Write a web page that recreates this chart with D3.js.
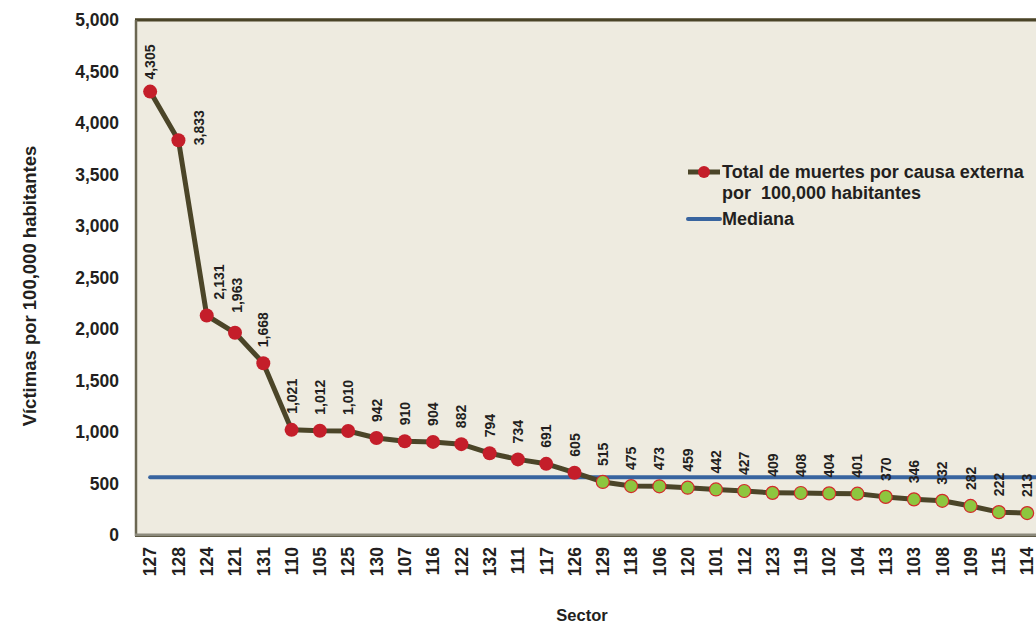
<!DOCTYPE html>
<html><head><meta charset="utf-8">
<script src="https://cdn.jsdelivr.net/npm/d3@7"></script>
<style>body{margin:0;background:#fff;}svg{display:block;font-family:"Liberation Sans",Arial,sans-serif;}</style>
</head><body>
<svg id="c" width="1036" height="625"></svg>
<script>
const sectors = ["127","128","124","121","131","110","105","125","130","107","116","122","132","111","117","126","129","118","106","120","101","112","123","119","102","104","113","103","108","109","115","114"];
const values = [4305,3833,2131,1963,1668,1021,1012,1010,942,910,904,882,794,734,691,605,515,475,473,459,442,427,409,408,404,401,370,346,332,282,222,213];
const median = 560;
const yTicks = [0,500,1000,1500,2000,2500,3000,3500,4000,4500,5000];
const legendLabels = ["Total de muertes por causa externa", "por  100,000 habitantes", "Mediana"];
const yTitle = "Víctimas por 100,000 habitantes";
const xTitle = "Sector";

(function(){
const svg = d3.select("#c");
const pL = 136, pT = 20, pB = 535;
const step = (1027 - 150) / 31;
const pR = pL + step * sectors.length;

const x = d3.scaleBand().domain(sectors).range([pL, pR]).padding(0);
const y = d3.scaleLinear().domain([0, 5000]).range([pB, pT]);
const cx = d => x(d) + x.bandwidth() / 2;

svg.append("rect").attr("x", pL).attr("y", pT).attr("width", pR - pL).attr("height", pB - pT).attr("fill", "#eeebe0");
svg.append("line").attr("x1", pL - 1).attr("x2", pR).attr("y1", pT - 1.5).attr("y2", pT - 1.5).attr("stroke", "#a09a88").attr("stroke-width", 1);
svg.append("line").attr("x1", pL - 1).attr("x2", pR).attr("y1", pT).attr("y2", pT).attr("stroke", "#4a4428").attr("stroke-width", 3);
svg.append("line").attr("x1", pL).attr("x2", pL).attr("y1", pT).attr("y2", pB + 1).attr("stroke", "#6b6752").attr("stroke-width", 2.5);
svg.append("line").attr("x1", pL - 1).attr("x2", pR).attr("y1", pB).attr("y2", pB).attr("stroke", "#8c8a7c").attr("stroke-width", 3);
svg.append("line").attr("x1", pL - 1).attr("x2", pR).attr("y1", pB + 1.5).attr("y2", pB + 1.5).attr("stroke", "#5e5a45").attr("stroke-width", 1);

const yAxis = d3.axisLeft(y).tickValues(yTicks).tickFormat(d3.format(",")).tickSize(0).tickPadding(17);
const ya = svg.append("g").attr("transform", `translate(${pL},0)`).call(yAxis);
ya.select(".domain").remove();
ya.selectAll("text").attr("font-size", 17.5).attr("font-weight", "bold").attr("fill", "#231f20").attr("font-family", "Liberation Sans, Arial, sans-serif");

const xAxis = d3.axisBottom(x).tickSize(0).tickPadding(0);
const xa = svg.append("g").attr("transform", `translate(0,${pB})`).call(xAxis);
xa.select(".domain").remove();
xa.selectAll("text").attr("font-size", 17.5).attr("font-weight", "bold").attr("fill", "#231f20")
  .attr("font-family", "Liberation Sans, Arial, sans-serif")
  .attr("transform", "rotate(-90)").attr("text-anchor", "end").attr("dy", "0.36em").attr("x", -12).attr("y", 0);

svg.append("text").attr("transform", `translate(36,286) rotate(-90)`).attr("text-anchor", "middle")
  .attr("font-size", 18.5).attr("font-weight", "bold").attr("fill", "#231f20").text(yTitle);
svg.append("text").attr("x", 582).attr("y", 621).attr("text-anchor", "middle")
  .attr("font-size", 16.5).attr("font-weight", "bold").attr("fill", "#231f20").text(xTitle);

svg.append("line").attr("x1", cx(sectors[0])).attr("x2", pR).attr("y1", y(median)).attr("y2", y(median))
  .attr("stroke", "#38649f").attr("stroke-width", 4).attr("stroke-linecap", "round");

const line = d3.line().x((d, i) => cx(sectors[i])).y(d => y(d));
svg.append("path").datum(values).attr("d", line).attr("fill", "none").attr("stroke", "#4b4528").attr("stroke-width", 5).attr("stroke-linejoin", "round");

svg.selectAll("circle.pt").data(values).enter().append("circle").attr("class", "pt")
  .attr("cx", (d, i) => cx(sectors[i])).attr("cy", d => y(d)).attr("r", d => d > median ? 7 : 6.5)
  .attr("fill", d => d > median ? "#c41e2a" : "#8dc63f")
  .attr("stroke", d => d > median ? "none" : "#d22b2b").attr("stroke-width", 1.2);

const fmt = d3.format(",");
const dxAdj = {1: 21, 2: 12, 3: 2};
const dyAdj = {0: -12, 1: 5, 2: -16, 3: -20, 4: -16};
svg.selectAll("text.lbl").data(values).enter().append("text").attr("class", "lbl")
  .attr("transform", (d, i) => {
    const px = cx(sectors[i]) + (dxAdj[i] || 0);
    const py = y(d) + (dyAdj[i] !== undefined ? dyAdj[i] : -16);
    return `translate(${px},${py}) rotate(-90)`;
  })
  .attr("dy", "0.36em").attr("text-anchor", "start")
  .attr("font-size", 14).attr("font-weight", "bold").attr("fill", "#231f20")
  .text(d => fmt(d));

const lg = svg.append("g");
lg.append("line").attr("x1", 688).attr("x2", 720).attr("y1", 172).attr("y2", 172).attr("stroke", "#4b4528").attr("stroke-width", 5);
lg.append("circle").attr("cx", 704).attr("cy", 172).attr("r", 6).attr("fill", "#c41e2a");
lg.append("text").attr("x", 722).attr("y", 178).attr("font-size", 18).attr("font-weight", "bold").attr("fill", "#231f20").text(legendLabels[0]);
lg.append("text").attr("x", 722).attr("y", 199).attr("font-size", 18).attr("font-weight", "bold").attr("fill", "#231f20").style("white-space", "pre").text(legendLabels[1]);
lg.append("line").attr("x1", 688).attr("x2", 720).attr("y1", 219).attr("y2", 219).attr("stroke", "#38649f").attr("stroke-width", 4).attr("stroke-linecap", "round");
lg.append("text").attr("x", 722).attr("y", 225).attr("font-size", 18).attr("font-weight", "bold").attr("fill", "#231f20").text(legendLabels[2]);
})();
</script>
</body></html>
